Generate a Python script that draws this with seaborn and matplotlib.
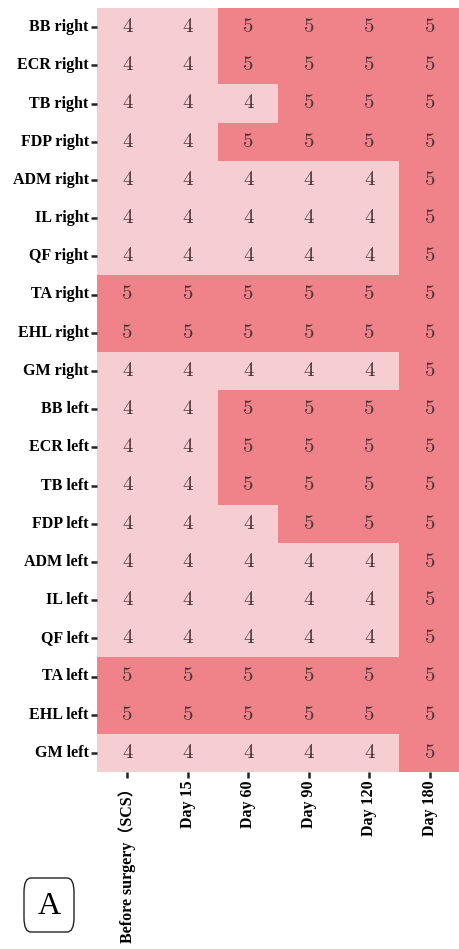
import numpy as np
import pandas as pd
import matplotlib
matplotlib.use("Agg")
import matplotlib.pyplot as plt
import seaborn as sns
from matplotlib.colors import ListedColormap
from matplotlib.patches import FancyBboxPatch

muscles = ["BB right", "ECR right", "TB right", "FDP right", "ADM right", "IL right",
           "QF right", "TA right", "EHL right", "GM right", "BB left", "ECR left",
           "TB left", "FDP left", "ADM left", "IL left", "QF left", "TA left",
           "EHL left", "GM left"]
timepoints = ["Before surgery（SCS）", "Day 15", "Day 60", "Day 90", "Day 120", "Day 180"]

before = [4, 4, 4, 4, 4, 4, 4, 5, 5, 4, 4, 4, 4, 4, 4, 4, 4, 5, 5, 4]
day15  = [4, 4, 4, 4, 4, 4, 4, 5, 5, 4, 4, 4, 4, 4, 4, 4, 4, 5, 5, 4]
day60  = [5, 5, 4, 5, 4, 4, 4, 5, 5, 4, 5, 5, 5, 4, 4, 4, 4, 5, 5, 4]
day90  = [5, 5, 5, 5, 4, 4, 4, 5, 5, 4, 5, 5, 5, 5, 4, 4, 4, 5, 5, 4]
day120 = [5, 5, 5, 5, 4, 4, 4, 5, 5, 4, 5, 5, 5, 5, 4, 4, 4, 5, 5, 4]
day180 = [5, 5, 5, 5, 5, 5, 5, 5, 5, 5, 5, 5, 5, 5, 5, 5, 5, 5, 5, 5]

df = pd.DataFrame({timepoints[0]: before, timepoints[1]: day15, timepoints[2]: day60,
                   timepoints[3]: day90, timepoints[4]: day120, timepoints[5]: day180},
                  index=muscles)

fig = plt.figure(figsize=(4.60, 9.49), dpi=100)
ax = fig.add_axes([97/460, 1 - 772/949, (460-97)/460, (772-8)/949])

cmap = ListedColormap(["#F6CDD0", "#F08389"])
sns.heatmap(df, ax=ax, cmap=cmap, vmin=3.5, vmax=5.5, cbar=False,
            annot=True, fmt="d",
            annot_kws={"family": "cmr10", "fontsize": 15, "color": "#4a3434"})

lab_font = ["Liberation Serif", "Noto Sans CJK SC"]
ax.set_yticklabels(muscles, rotation=0, fontsize=11.5, fontweight="bold", family=lab_font)
ax.set_xticklabels(timepoints, rotation=90, fontsize=11.5, fontweight="bold", family=lab_font)
ax.tick_params(axis="both", length=4, width=1.8, color="#222222", pad=2)
ax.set_xlabel("")
ax.set_ylabel("")

box = FancyBboxPatch((24/460, 1 - 932/949), 50/460, 54/949,
                     boxstyle="round,pad=0,rounding_size=0.015",
                     transform=fig.transFigure, facecolor="white",
                     edgecolor="#222222", linewidth=1.0)
fig.patches.append(box)
fig.text(49/460, 1 - 906/949, "A", ha="center", va="center", fontsize=23,
         family="Liberation Serif")

fig.savefig("out.png", dpi=100)
